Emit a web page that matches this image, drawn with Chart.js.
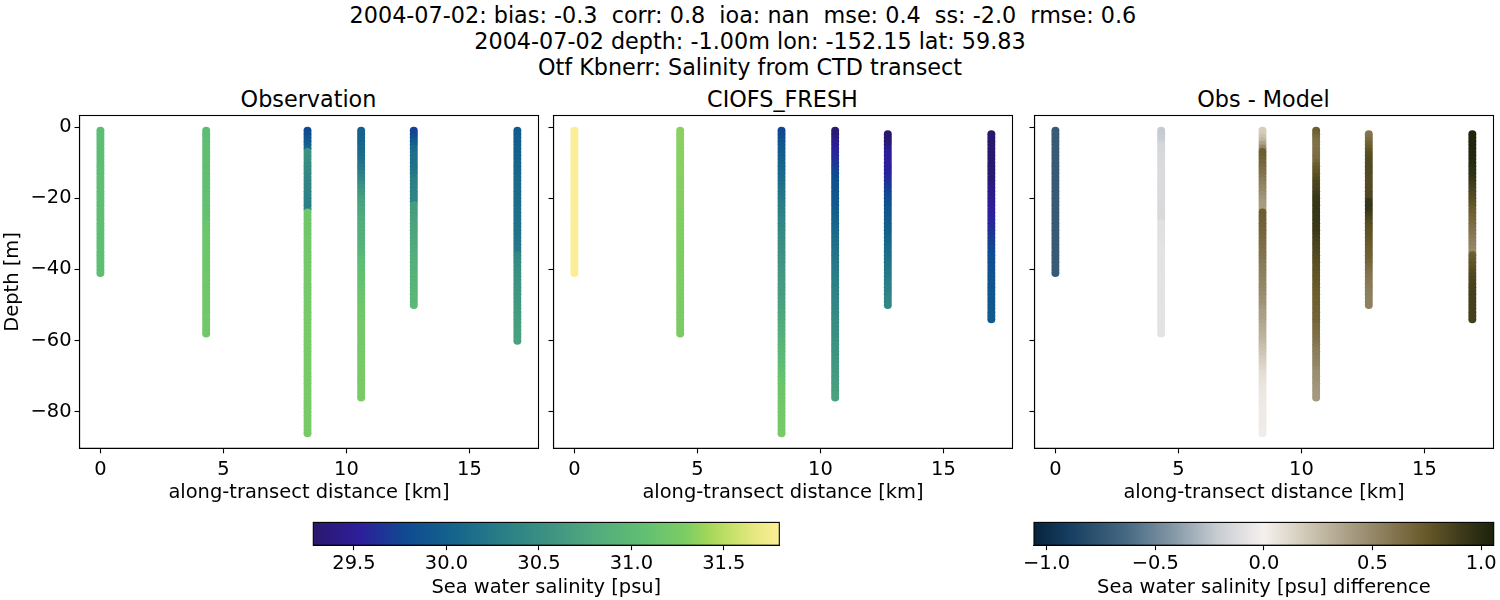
<!DOCTYPE html>
<html>
<head>
<meta charset="utf-8">
<script src="https://cdn.jsdelivr.net/npm/chart.js@4"></script>
<style>
  html, body { margin: 0; padding: 0; background: #fff; }
  #page { position: relative; width: 1500px; height: 600px; overflow: hidden; }
  canvas { position: absolute; }
  .sup { position: absolute; left: 0; width: 1500px; text-align: center; white-space: pre;
         font: 22.3px "DejaVu Sans"; line-height: 26px; color: #000; }
  .ptitle { position: absolute; top: 86px; width: 459px; text-align: center;
            font: 22.3px "DejaVu Sans"; line-height: 26px; color: #000; }
</style>
</head>
<body>
<div id="page">
  <div class="sup" style="top:2px">2004-07-02: bias: -0.3  corr: 0.8  ioa: nan  mse: 0.4  ss: -2.0  rmse: 0.6  </div>
  <div class="sup" style="top:28px">2004-07-02 depth: -1.00m lon: -152.15 lat: 59.83</div>
  <div class="sup" style="top:54px">Otf Kbnerr: Salinity from CTD transect</div>
  <div class="ptitle" style="left:79px">Observation</div>
  <div class="ptitle" style="left:553px">CIOFS_FRESH</div>
  <div class="ptitle" style="left:1034px">Obs - Model</div>
  <canvas id="panel1" width="550" height="426" style="left:0;top:84px"></canvas>
  <canvas id="panel2" width="550" height="426" style="left:474px;top:84px"></canvas>
  <canvas id="panel3" width="545" height="426" style="left:955px;top:84px"></canvas>
  <canvas id="bar1" width="510" height="90" style="left:290px;top:510px"></canvas>
  <canvas id="bar2" width="500" height="90" style="left:1000px;top:510px"></canvas>
</div>
<script>
// along-transect position of each cast [km]
var stationKm = [0, 4.3, 8.42, 10.6, 12.74, 16.95];

// depth of each level [m], the arrays below are indexed on these
var depthLevels = [
  -1,-2,-3,-4,-5,-6,-7,-8,-9,-10,-11,-12,-13,-14,-15,-16,-17,-18,-19,-20,
  -21,-22,-23,-24,-25,-26,-27,-28,-29,-30,-31,-32,-33,-34,-35,-36,-37,-38,-39,-40,
  -41,-42,-43,-44,-45,-46,-47,-48,-49,-50,-51,-52,-53,-54,-55,-56,-57,-58,-59,-60,
  -61,-62,-63,-64,-65,-66,-67,-68,-69,-70,-71,-72,-73,-74,-75,-76,-77,-78,-79,-80,
  -81,-82,-83,-84,-85,-86
];

// Observation salinity per cast [psu]
var obsCast0 = [
  31.03,31.03,31.03,31.03,31.03,31.03,31.03,31.03,31.03,31.03,
  31.04,31.04,31.04,31.04,31.04,31.04,31.04,31.04,31.04,31.04,
  31.04,31.04,31.04,31.04,31.04,31.04,31.04,31.04,31.04,31.04,
  31.04,31.04,31.04,31.04,31.04,31.04,31.04,31.04,31.04,31.04,31.04
];
var obsCast1 = [
  31.03,31.03,31.03,31.04,31.04,31.04,31.05,31.05,31.05,31.05,
  31.05,31.05,31.06,31.06,31.06,31.06,31.06,31.06,31.06,31.07,
  31.07,31.07,31.07,31.08,31.08,31.09,31.15,31.15,31.15,31.15,
  31.16,31.16,31.16,31.16,31.16,31.17,31.17,31.17,31.17,31.17,
  31.18,31.18,31.18,31.18,31.18,31.18,31.19,31.19,31.19,31.19,
  31.19,31.19,31.20,31.20,31.20,31.20,31.20,31.20
];
var obsCast2 = [
  29.78,29.80,29.85,29.92,29.98,30.05,30.56,30.54,30.52,30.50,
  30.48,30.46,30.44,30.42,30.40,30.38,30.37,30.36,30.35,30.34,
  30.32,30.31,30.30,31.18,31.18,31.18,31.19,31.19,31.19,31.19,
  31.20,31.20,31.20,31.20,31.20,31.21,31.21,31.21,31.21,31.21,
  31.22,31.22,31.22,31.22,31.22,31.22,31.23,31.23,31.23,31.23,
  31.23,31.23,31.24,31.24,31.24,31.24,31.24,31.24,31.24,31.24,
  31.25,31.25,31.25,31.25,31.25,31.25,31.25,31.25,31.25,31.25,
  31.25,31.25,31.25,31.25,31.25,31.25,31.25,31.25,31.25,31.25,
  31.25,31.25,31.25,31.25,31.25,31.25
];
var obsCast3 = [
  30.02,30.02,30.03,30.04,30.06,30.08,30.10,30.12,30.14,30.18,
  30.22,30.26,30.30,30.36,30.42,30.48,30.54,30.58,30.62,30.66,
  30.70,30.72,30.74,30.76,30.78,30.80,30.82,30.84,30.85,30.86,
  30.87,30.88,30.89,30.90,30.92,30.96,31.00,31.02,31.04,31.05,
  31.06,31.07,31.08,31.09,31.10,31.12,31.14,31.15,31.16,31.17,
  31.18,31.19,31.20,31.20,31.21,31.21,31.22,31.22,31.22,31.23,
  31.23,31.23,31.24,31.24,31.24,31.24,31.25,31.25,31.25,31.25,
  31.25,31.25,31.26,31.26,31.26,31.26
];
var obsCast4 = [
  29.72,29.74,29.80,29.92,29.98,30.08,30.12,30.14,30.15,30.16,
  30.17,30.18,30.22,30.26,30.30,30.32,30.34,30.35,30.36,30.37,
  30.38,30.66,30.66,30.67,30.68,30.70,30.72,30.73,30.74,30.75,
  30.76,30.77,30.78,30.80,30.82,30.84,30.85,30.86,30.87,30.88,
  30.89,30.90,30.91,30.92,30.93,30.94,30.95,30.96,30.96,30.97
];
var obsCast5 = [
  29.96,29.97,29.98,29.98,29.99,30.00,30.01,30.02,30.03,30.04,
  30.05,30.06,30.07,30.08,30.09,30.10,30.11,30.12,30.12,30.13,
  30.13,30.14,30.14,30.15,30.15,30.16,30.17,30.18,30.19,30.20,
  30.21,30.22,30.23,30.24,30.25,30.42,30.44,30.46,30.48,30.50,
  30.52,30.53,30.54,30.55,30.56,30.57,30.58,30.59,30.60,30.61,
  30.62,30.63,30.64,30.65,30.66,30.67,30.68,30.69,30.69,30.70
];

// CIOFS_FRESH salinity per cast [psu], null where the model has no level
var modelCast0 = [
  31.79,31.79,31.79,31.79,31.79,31.79,31.79,31.79,31.79,31.79,
  31.79,31.79,31.79,31.79,31.79,31.79,31.79,31.79,31.79,31.79,
  31.79,31.79,31.79,31.79,31.79,31.79,31.79,31.79,31.79,31.79,
  31.79,31.79,31.79,31.79,31.79,31.79,31.79,31.79,31.79,31.79,31.79
];
var modelCast1 = [
  31.34,31.34,31.34,31.34,31.34,31.33,31.33,31.33,31.33,31.33,
  31.33,31.33,31.33,31.33,31.32,31.32,31.32,31.32,31.32,31.32,
  31.32,31.32,31.32,31.31,31.31,31.31,31.31,31.31,31.31,31.31,
  31.31,31.31,31.30,31.30,31.30,31.30,31.30,31.30,31.30,31.30,
  31.29,31.29,31.29,31.29,31.29,31.29,31.29,31.29,31.28,31.28,
  31.28,31.28,31.28,31.28,31.28,31.28,31.27,31.27
];
var modelCast2 = [
  29.74,29.76,29.80,29.86,29.90,29.93,29.96,29.98,30.00,30.03,
  30.05,30.07,30.09,30.11,30.13,30.15,30.17,30.19,30.21,30.24,
  30.27,30.29,30.31,30.33,30.35,30.37,30.39,30.41,30.43,30.45,
  30.47,30.49,30.50,30.52,30.53,30.54,30.56,30.57,30.58,30.60,
  30.61,30.62,30.63,30.64,30.65,30.66,30.67,30.68,30.69,30.70,
  30.72,30.74,30.76,30.78,30.80,30.82,30.84,30.86,30.88,30.90,
  30.92,30.94,30.96,30.98,31.00,31.02,31.04,31.06,31.08,31.10,
  31.12,31.14,31.15,31.16,31.17,31.18,31.19,31.20,31.21,31.22,
  31.22,31.23,31.23,31.24,31.24,31.25
];
var modelCast3 = [
  29.31,29.33,29.36,29.44,29.50,29.53,29.56,29.58,29.61,29.64,
  29.68,29.72,29.75,29.78,29.80,29.82,29.84,29.86,29.88,29.90,
  29.92,29.94,29.96,29.98,30.00,30.02,30.04,30.06,30.08,30.10,
  30.12,30.14,30.15,30.17,30.19,30.20,30.22,30.23,30.25,30.26,
  30.28,30.29,30.31,30.32,30.33,30.35,30.36,30.38,30.39,30.41,
  30.42,30.44,30.45,30.47,30.48,30.49,30.50,30.51,30.52,30.53,
  30.54,30.55,30.56,30.57,30.58,30.59,30.60,30.61,30.62,30.64,
  30.65,30.66,30.67,30.68,30.69,30.70
];
var modelCast4 = [
  null,29.29,29.30,29.31,29.36,29.44,29.50,29.51,29.52,29.52,
  29.53,29.54,29.56,29.59,29.62,29.65,29.68,29.72,29.76,29.79,
  29.82,29.85,29.88,29.90,29.92,29.94,29.96,29.98,30.00,30.02,
  30.04,30.06,30.08,30.10,30.12,30.14,30.16,30.18,30.20,30.22,
  30.24,30.26,30.28,30.30,30.32,30.34,30.36,30.38,30.40,30.42
];
var modelCast5 = [
  null,29.29,29.29,29.30,29.30,29.30,29.30,29.30,29.30,29.30,
  29.30,29.31,29.31,29.31,29.32,29.36,29.40,29.42,29.44,29.46,
  29.48,29.50,29.52,29.54,29.55,29.56,29.58,29.60,29.63,29.66,
  29.68,29.70,29.73,29.76,29.78,29.80,29.81,29.82,29.83,29.84,
  29.85,29.86,29.87,29.88,29.88,29.89,29.90,29.90,29.91,29.91,
  29.92,29.92,29.93,29.93
];

// Obs - Model per cast [psu]
var diffCast0 = [
  -0.72,-0.72,-0.72,-0.72,-0.72,-0.72,-0.72,-0.72,-0.72,-0.72,
  -0.72,-0.72,-0.72,-0.72,-0.72,-0.72,-0.72,-0.72,-0.72,-0.72,
  -0.72,-0.72,-0.72,-0.72,-0.72,-0.72,-0.72,-0.72,-0.72,-0.72,
  -0.72,-0.72,-0.72,-0.72,-0.72,-0.72,-0.72,-0.72,-0.72,-0.72,-0.72
];
var diffCast1 = [
  -0.22,-0.22,-0.21,-0.20,-0.16,-0.15,-0.15,-0.14,-0.14,-0.14,
  -0.13,-0.13,-0.13,-0.13,-0.13,-0.13,-0.13,-0.13,-0.13,-0.13,
  -0.13,-0.13,-0.14,-0.14,-0.14,-0.14,-0.09,-0.09,-0.09,-0.09,
  -0.09,-0.09,-0.09,-0.08,-0.08,-0.08,-0.08,-0.08,-0.08,-0.08,
  -0.08,-0.08,-0.08,-0.08,-0.08,-0.08,-0.08,-0.08,-0.08,-0.08,
  -0.08,-0.08,-0.08,-0.08,-0.08,-0.08,-0.08,-0.08
];
var diffCast2 = [
  0.17,0.18,0.22,0.28,0.38,0.50,0.72,0.72,0.70,0.68,
  0.66,0.64,0.62,0.60,0.57,0.55,0.52,0.50,0.47,0.45,
  0.42,0.41,0.40,0.72,0.72,0.71,0.70,0.69,0.68,0.67,
  0.66,0.65,0.64,0.63,0.62,0.61,0.60,0.58,0.57,0.56,
  0.55,0.54,0.53,0.52,0.51,0.50,0.49,0.47,0.46,0.45,
  0.42,0.40,0.39,0.38,0.36,0.34,0.33,0.31,0.30,0.28,
  0.26,0.24,0.22,0.20,0.18,0.16,0.14,0.12,0.10,0.09,
  0.08,0.07,0.06,0.05,0.05,0.04,0.04,0.04,0.03,0.03,
  0.03,0.03,0.03,0.03,0.02,0.02
];
var diffCast3 = [
  0.72,0.70,0.66,0.63,0.62,0.62,0.63,0.64,0.65,0.68,
  0.72,0.75,0.77,0.80,0.83,0.85,0.86,0.88,0.90,0.92,
  0.93,0.94,0.94,0.94,0.93,0.93,0.93,0.92,0.92,0.91,
  0.89,0.87,0.86,0.85,0.84,0.83,0.82,0.81,0.80,0.79,
  0.78,0.77,0.76,0.75,0.74,0.73,0.72,0.72,0.71,0.71,
  0.70,0.70,0.69,0.69,0.68,0.66,0.65,0.64,0.63,0.62,
  0.60,0.58,0.56,0.55,0.54,0.53,0.52,0.50,0.48,0.47,
  0.46,0.45,0.44,0.43,0.42,0.42
];
var diffCast4 = [
  null,0.60,0.62,0.66,0.70,0.74,0.78,0.80,0.82,0.83,
  0.83,0.83,0.83,0.83,0.82,0.82,0.83,0.83,0.84,0.84,
  0.93,0.94,0.94,0.92,0.88,0.85,0.82,0.80,0.79,0.78,
  0.77,0.76,0.74,0.73,0.72,0.71,0.70,0.68,0.66,0.64,
  0.62,0.60,0.59,0.58,0.57,0.56,0.55,0.55,0.54,0.54
];
var diffCast5 = [
  null,1.04,1.04,1.04,1.04,1.04,1.03,1.03,1.02,1.01,
  1.00,0.98,0.97,0.96,0.94,0.90,0.88,0.86,0.84,0.82,
  0.80,0.77,0.74,0.72,0.70,0.68,0.66,0.64,0.62,0.60,
  0.58,0.56,0.54,0.52,0.50,0.72,0.74,0.76,0.78,0.80,
  0.82,0.84,0.85,0.86,0.87,0.87,0.88,0.88,0.88,0.88,
  0.88,0.88,0.88,0.88
];

var obsCasts = [obsCast0, obsCast1, obsCast2, obsCast3, obsCast4, obsCast5];
var modelCasts = [modelCast0, modelCast1, modelCast2, modelCast3, modelCast4, modelCast5];
var diffCasts = [diffCast0, diffCast1, diffCast2, diffCast3, diffCast4, diffCast5];

var xTickValues = [0, 5, 10, 15];
var yTickValues = [0, -20, -40, -60, -80];
var salinityTicks = [29.5, 30.0, 30.5, 31.0, 31.5];
var diffTicks = [-1.0, -0.5, 0.0, 0.5, 1.0];

// colormap stops
var halinePos = [0, 0.1, 0.2, 0.3, 0.4, 0.5, 0.6, 0.7, 0.8, 0.85, 0.9, 0.95, 1];
var halineRgb = [[42,24,108],[45,30,155],[15,75,145],[20,100,140],[40,125,135],[60,145,130],
                 [80,170,125],[95,190,115],[125,205,100],[165,215,90],[200,225,105],[232,232,130],[253,238,153]];
var diffPos = [0, 0.07, 0.2, 0.3, 0.4, 0.5, 0.6, 0.7, 0.8, 0.85, 0.93, 1];
var diffRgb = [[8,35,60],[20,60,95],[70,105,130],[130,150,165],[200,205,210],[245,240,238],
               [205,197,178],[163,152,125],[125,110,70],[105,90,42],[60,58,26],[28,34,10]];

var salinityRange = [29.28, 31.80];
var diffRange = [-1.058, 1.058];
var xRange = [-0.85, 17.81];
var yRange = [-90.25, 3.25];

var FONT = "DejaVu Sans";

Chart.defaults.animation = false;
Chart.defaults.responsive = false;
Chart.defaults.devicePixelRatio = 1;
Chart.defaults.color = "#000";

function colorAt(pos, rgb, t){
    t = Math.min(1, Math.max(0, t));
    var i = 0;
    while(i < pos.length - 2 && t > pos[i+1]) i++;
    var f = (t - pos[i]) / (pos[i+1] - pos[i]);
    var c = [0, 1, 2].map(k => Math.round(rgb[i][k] + (rgb[i+1][k] - rgb[i][k]) * f));
    return "rgb(" + c.join(",") + ")";
}

function minusLabel(text){
    return String(text).replace("-", "\u2212");
}

// matplotlib style box around the axes
var framePlugin = {
    id: "frame",
    afterDraw(chart){
        var a = chart.chartArea, ctx = chart.ctx;
        ctx.save();
        ctx.strokeStyle = "#000";
        ctx.lineWidth = 1.1;
        ctx.strokeRect(a.left, a.top, a.right - a.left, a.bottom - a.top);
        ctx.restore();
    }
};

function tickGrid(){
    return { drawOnChartArea: false, drawTicks: true, tickLength: 5, tickWidth: 1.1, color: "#000" };
}

function createPanel(id, casts, pos, rgb, range, leftAxis, paddingRight){
    var datasets = casts.map((values, s) => {
        var points = [];
        values.forEach((v, i) => {
            if(v !== null) points.push({ x: stationKm[s], y: depthLevels[i], v: v });
        });
        return {
            data: points,
            pointRadius: 4,
            pointBorderWidth: 0,
            pointBackgroundColor: ctx => colorAt(pos, rgb, (ctx.raw.v - range[0]) / (range[1] - range[0]))
        };
    });

    return new Chart(document.getElementById(id), {
        type: "scatter",
        data: { datasets: datasets },
        plugins: [framePlugin],
        options: {
            layout: { padding: { left: 0, right: paddingRight, top: 31.5, bottom: 0 } },
            plugins: {
                legend: { display: false },
                tooltip: { enabled: false }
            },
            scales: {
                x: {
                    type: "linear", min: xRange[0], max: xRange[1],
                    afterBuildTicks: scale => { scale.ticks = xTickValues.map(v => ({ value: v })); },
                    afterFit: scale => { scale.height = 61.7; },
                    grid: tickGrid(),
                    border: { color: "#000", width: 1.1 },
                    ticks: {
                        autoSkip: false, maxRotation: 0, padding: 5,
                        font: { family: FONT, size: 19.44 },
                        callback: v => String(v)
                    },
                    title: {
                        display: true, text: "along-transect distance [km]",
                        font: { family: FONT, size: 19.44 },
                        padding: { top: 1, bottom: 5 }
                    }
                },
                y: {
                    type: "linear", min: yRange[0], max: yRange[1],
                    afterBuildTicks: scale => { scale.ticks = yTickValues.map(v => ({ value: v })); },
                    afterFit: scale => { scale.width = 79.5; },
                    grid: tickGrid(),
                    border: { color: "#000", width: 1.1 },
                    ticks: {
                        autoSkip: false, padding: 3,
                        font: { family: FONT, size: 19.44 },
                        callback: v => leftAxis ? minusLabel(v) : ""
                    },
                    title: {
                        display: leftAxis, text: "Depth [m]",
                        font: { family: FONT, size: 19.44 },
                        padding: { top: 1, bottom: 0 }
                    }
                }
            }
        }
    });
}

function createColorbar(id, label, ticks, pos, rgb, range, paddingLeft, paddingRight){
    var fill = ctx => {
        var area = ctx.chart.chartArea;
        if(!area) return "#888";
        var g = ctx.chart.ctx.createLinearGradient(area.left, 0, area.right, 0);
        pos.forEach((p, i) => g.addColorStop(p, "rgb(" + rgb[i].join(",") + ")"));
        return g;
    };

    return new Chart(document.getElementById(id), {
        type: "bar",
        data: {
            labels: [label],
            datasets: [{ data: [range], backgroundColor: fill, barPercentage: 1, categoryPercentage: 1 }]
        },
        plugins: [framePlugin],
        options: {
            indexAxis: "y",
            layout: { padding: { left: paddingLeft, right: paddingRight, top: 12.4, bottom: 0 } },
            plugins: { legend: { display: false }, tooltip: { enabled: false } },
            scales: {
                y: { display: false },
                x: {
                    type: "linear", min: range[0], max: range[1],
                    afterBuildTicks: scale => { scale.ticks = ticks.map(v => ({ value: v })); },
                    afterFit: scale => { scale.height = 54.8; },
                    grid: tickGrid(),
                    border: { color: "#000", width: 1.1 },
                    ticks: {
                        autoSkip: false, maxRotation: 0, padding: 2,
                        font: { family: FONT, size: 19.44 },
                        callback: v => minusLabel(Number(v).toFixed(1))
                    },
                    title: {
                        display: true, text: label,
                        font: { family: FONT, size: 19.44 },
                        padding: { top: 1, bottom: 0 }
                    }
                }
            }
        }
    });
}

createPanel("panel1", obsCasts, halinePos, halineRgb, salinityRange, true, 11.5);
createPanel("panel2", modelCasts, halinePos, halineRgb, salinityRange, false, 11.5);
createPanel("panel3", diffCasts, diffPos, diffRgb, diffRange, false, 6.5);
createColorbar("bar1", "Sea water salinity [psu]", salinityTicks, halinePos, halineRgb, salinityRange, 23.3, 20.7);
createColorbar("bar2", "Sea water salinity [psu] difference", diffTicks, diffPos, diffRgb, diffRange, 34, 6.3);
</script>
</body>
</html>
